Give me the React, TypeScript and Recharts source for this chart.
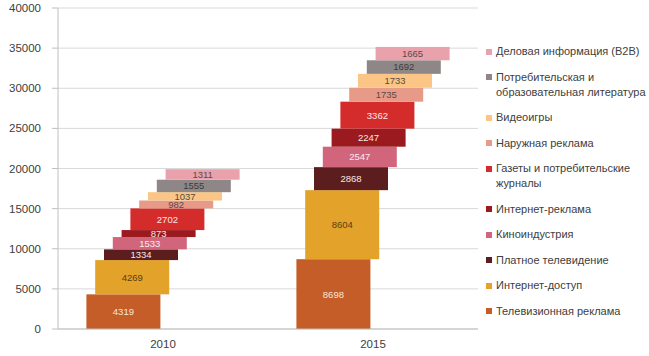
import React from 'react';
import { BarChart, Bar, XAxis, YAxis, CartesianGrid } from 'recharts';

const categories = ['2010', '2015'];

// bottom to top of each stack
const seriesNames = [
  'Телевизионная реклама',
  'Интернет-доступ',
  'Платное телевидение',
  'Киноиндустрия',
  'Интернет-реклама',
  'Газеты и потребительские журналы',
  'Наружная реклама',
  'Видеоигры',
  'Потребительская и образовательная литература',
  'Деловая информация (B2B)',
];

const seriesColors = [
  '#c55d28', '#e3a229', '#5b1d1e', '#d0657c', '#9a1a1f',
  '#d42b2b', '#e79a88', '#fbc685', '#8f8787', '#e9a1ab',
];

const labelColors = [
  '#f8e6da', '#5a3d16', '#f5e8e8', '#f8ecee', '#f5e8e8',
  '#f8eaea', '#5a4a46', '#5a4a3a', '#3e3a3a', '#5a4a4c',
];

const values2010 = [4319, 4269, 1334, 1533, 873, 2702, 982, 1037, 1555, 1311];
const values2015 = [8698, 8604, 2868, 2547, 2247, 3362, 1735, 1733, 1692, 1665];

const yTicks = [0, 5000, 10000, 15000, 20000, 25000, 30000, 35000, 40000];

const allValues = [values2010, values2015];
const data = categories.map((year, ci) => {
  const row: Record<string, any> = { year };
  seriesNames.forEach((_, i) => {
    row['s' + i] = allValues[ci][i];
  });
  return row;
});

const FONT = 'Arial, "Liberation Sans", sans-serif';
const STEP = 8.8; // each layer sits a little to the right of the one below

const makeShape = (i: number) => (props: any) => {
  const { x, y, width, height, fill, payload } = props;
  const dx = (i - 4.5) * STEP;
  return (
    <g>
      <rect x={x + dx} y={y} width={width} height={height} fill={fill} />
      <text
        x={x + dx + width / 2}
        y={y + height / 2}
        dy="0.36em"
        textAnchor="middle"
        fontSize={9.5}
        fontFamily={FONT}
        fill={labelColors[i]}
      >
        {payload['s' + i]}
      </text>
    </g>
  );
};

const legendOrder = seriesNames.map((_, i) => i).reverse();

const App: React.FC = () => {
  return (
    <div style={{ position: 'absolute', left: 0, top: 0, width: 649, height: 356, background: '#fff' }}>
      <BarChart
        width={649}
        height={356}
        data={data}
        margin={{ top: 8, right: 171, bottom: 0, left: 0 }}
      >
        <CartesianGrid vertical={false} stroke="#d9d9d9" />
        <XAxis
          dataKey="year"
          height={27}
          axisLine={{ stroke: '#bfbfbf' }}
          tickLine={false}
          tickSize={0}
          tickMargin={11}
          tick={{ fontSize: 11.5, fill: '#404040', fontFamily: FONT }}
        />
        <YAxis
          width={58}
          domain={[0, 40000]}
          ticks={yTicks}
          interval={0}
          axisLine={{ stroke: '#bfbfbf' }}
          tickLine={{ stroke: '#bfbfbf' }}
          tickSize={6}
          tickMargin={11}
          tick={{ fontSize: 11.5, fill: '#404040', fontFamily: FONT }}
        />
        {seriesNames.map((name, i) => (
          <Bar
            key={name}
            dataKey={'s' + i}
            name={name}
            stackId="a"
            fill={seriesColors[i]}
            barSize={74}
            isAnimationActive={false}
            shape={makeShape(i)}
          />
        ))}
      </BarChart>

      <div
        style={{
          position: 'absolute',
          left: 486,
          top: 44,
          width: 160,
          fontFamily: FONT,
          fontSize: 11,
          lineHeight: '15px',
          color: '#404040',
        }}
      >
        {legendOrder.map((i) => (
          <div key={i} style={{ display: 'flex', alignItems: 'flex-start', marginBottom: 10.5 }}>
            <span
              style={{
                display: 'inline-block',
                width: 6,
                height: 6,
                marginTop: 4.5,
                marginRight: 4,
                flex: 'none',
                background: seriesColors[i],
              }}
            />
            <span style={{ width: 150 }}>{seriesNames[i]}</span>
          </div>
        ))}
      </div>
    </div>
  );
};

export default App;
